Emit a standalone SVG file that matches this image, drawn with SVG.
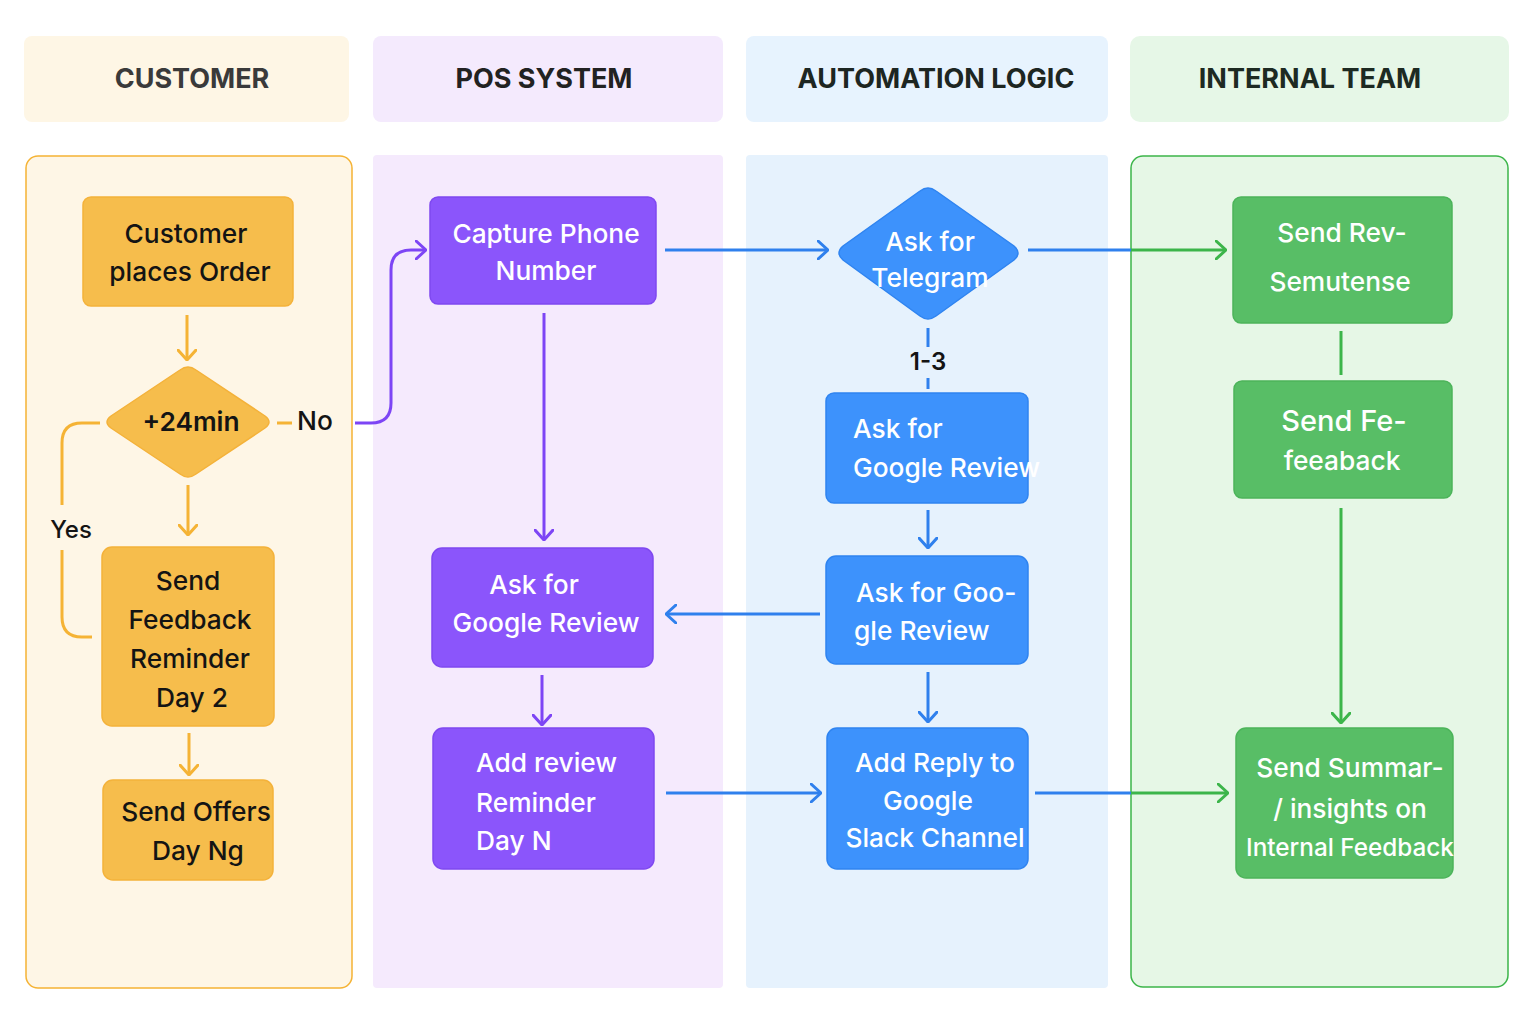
<svg xmlns="http://www.w3.org/2000/svg" width="1536" height="1024" viewBox="0 0 1536 1024">
<defs>
<style>
.hdr{font-family:Inter,"Liberation Sans",sans-serif;font-size:27px;font-weight:700;text-anchor:middle}
.t{font-family:Inter,"Liberation Sans",sans-serif;font-size:26.3px;font-weight:500}
.c{text-anchor:middle}
.dark{fill:#141414}
.wh{fill:#ffffff}
.onode{fill:#f6bd4c;stroke:#f4b23a;stroke-width:1.5}
.pnode{fill:#8b55fb;stroke:#7f48f0;stroke-width:1.5}
.bnode{fill:#3d92fc;stroke:#2f84f0;stroke-width:1.5}
.gnode{fill:#58be66;stroke:#4cb45a;stroke-width:1.5}
.co{fill:none;stroke:#f5b335;stroke-width:3}
.cp{fill:none;stroke:#7d45f5;stroke-width:3}
.cb{fill:none;stroke:#2f80ed;stroke-width:3}
.cg{fill:none;stroke:#3cb54a;stroke-width:3}
</style>
<marker id="ao" viewBox="0 0 12 20" refX="11" refY="10" markerWidth="12" markerHeight="20" markerUnits="userSpaceOnUse" orient="auto"><path d="M1,1 L11,10 L1,19" fill="none" stroke="#f5b335" stroke-width="3" stroke-linecap="round" stroke-linejoin="round"/></marker>
<marker id="ap" viewBox="0 0 12 20" refX="11" refY="10" markerWidth="12" markerHeight="20" markerUnits="userSpaceOnUse" orient="auto"><path d="M1,1 L11,10 L1,19" fill="none" stroke="#7d45f5" stroke-width="3" stroke-linecap="round" stroke-linejoin="round"/></marker>
<marker id="ab" viewBox="0 0 12 20" refX="11" refY="10" markerWidth="12" markerHeight="20" markerUnits="userSpaceOnUse" orient="auto"><path d="M1,1 L11,10 L1,19" fill="none" stroke="#2f80ed" stroke-width="3" stroke-linecap="round" stroke-linejoin="round"/></marker>
<marker id="ag" viewBox="0 0 12 20" refX="11" refY="10" markerWidth="12" markerHeight="20" markerUnits="userSpaceOnUse" orient="auto"><path d="M1,1 L11,10 L1,19" fill="none" stroke="#3cb54a" stroke-width="3" stroke-linecap="round" stroke-linejoin="round"/></marker>
</defs>
<rect x="0" y="0" width="1536" height="1024" fill="#ffffff"/>

<g id="headers">
<rect x="24" y="36" width="325" height="86" rx="8" fill="#fef6e5"/>
<text class="hdr" x="192" y="88" fill="#3a3a3a">CUSTOMER</text>
<rect x="373" y="36" width="350" height="86" rx="8" fill="#f4eafd"/>
<text class="hdr" x="544" y="88" fill="#222">POS SYSTEM</text>
<rect x="746" y="36" width="362" height="86" rx="8" fill="#e7f3fe"/>
<text class="hdr" x="936" y="88" fill="#1d2622">AUTOMATION LOGIC</text>
<rect x="1130" y="36" width="379" height="86" rx="10" fill="#e6f7e7"/>
<text class="hdr" x="1310" y="88" fill="#1d2a22">INTERNAL TEAM</text>
</g>

<g id="lanes">
<rect x="26" y="156" width="326" height="832" rx="12" fill="#fef6e6" stroke="#f5b335" stroke-width="1.5"/>
<rect x="373" y="155" width="350" height="833" rx="4" fill="#f5eafd"/>
<rect x="746" y="155" width="362" height="833" rx="4" fill="#e6f2fd"/>
<rect x="1131" y="156" width="377" height="831" rx="12" fill="#e6f7e6" stroke="#3cb54a" stroke-width="1.5"/>
</g>

<g id="connectors">
<line class="co" x1="187" y1="315" x2="187" y2="360" marker-end="url(#ao)"/>
<line class="co" x1="188" y1="485" x2="188" y2="535" marker-end="url(#ao)"/>
<line class="co" x1="189" y1="733" x2="189" y2="775" marker-end="url(#ao)"/>
<line class="co" x1="277" y1="423" x2="292" y2="423"/>
<path class="co" d="M100,423 L82,423 Q62,423 62,443 L62,505"/>
<path class="co" d="M62,550 L62,617 Q62,637 82,637 L92,637"/>
<path class="cp" d="M355,423 L371,423 Q391,423 391,403 L391,270 Q391,250 411,250 L426,250" marker-end="url(#ap)"/>
<line class="cp" x1="544" y1="313" x2="544" y2="540" marker-end="url(#ap)"/>
<line class="cp" x1="542" y1="675" x2="542" y2="725" marker-end="url(#ap)"/>
<line class="cb" x1="665" y1="250" x2="828" y2="250" marker-end="url(#ab)"/>
<line class="cb" x1="1028" y1="250" x2="1131" y2="250"/>
<line class="cg" x1="1131" y1="250" x2="1226" y2="250" marker-end="url(#ag)"/>
<line class="cb" x1="928" y1="328" x2="928" y2="347"/>
<line class="cb" x1="928" y1="378" x2="928" y2="389"/>
<line class="cb" x1="928" y1="510" x2="928" y2="548" marker-end="url(#ab)"/>
<line class="cb" x1="820" y1="614" x2="666" y2="614" marker-end="url(#ab)"/>
<line class="cb" x1="928" y1="672" x2="928" y2="722" marker-end="url(#ab)"/>
<line class="cb" x1="666" y1="793" x2="821" y2="793" marker-end="url(#ab)"/>
<line class="cb" x1="1035" y1="793" x2="1131" y2="793"/>
<line class="cg" x1="1131" y1="793" x2="1228" y2="793" marker-end="url(#ag)"/>
<line class="cg" x1="1341" y1="331" x2="1341" y2="375"/>
<line class="cg" x1="1341" y1="508" x2="1341" y2="723" marker-end="url(#ag)"/>
</g>

<g id="labels">
<text class="t dark c" x="315" y="430">No</text>
<text class="t dark c" x="71" y="538" style="font-size:24px">Yes</text>
<text class="t dark c" x="928" y="370" style="font-size:24px;font-weight:600">1-3</text>
</g>

<g id="n-customer-order">
<rect class="onode" x="83" y="197" width="210" height="109" rx="8"/>
<text class="t dark c" x="186" y="243">Customer</text>
<text class="t dark c" x="190" y="281">places Order</text>
</g>
<g id="n-24min">
<path class="onode" d="M180,370 Q188,364 196,370 L265,416 Q273,422 265,428 L196,474 Q188,480 180,474 L111,428 Q103,422 111,416 Z"/>
<text class="t dark c" x="191" y="431" style="font-weight:600">+24min</text>
</g>
<g id="n-feedback-day2">
<rect class="onode" x="102" y="547" width="172" height="179" rx="10"/>
<text class="t dark c" x="188" y="590">Send</text>
<text class="t dark c" x="190" y="629">Feedback</text>
<text class="t dark c" x="190" y="668">Reminder</text>
<text class="t dark c" x="192" y="707">Day 2</text>
</g>
<g id="n-offers">
<rect class="onode" x="103" y="780" width="170" height="100" rx="10"/>
<text class="t dark c" x="196" y="821">Send Offers</text>
<text class="t dark c" x="198" y="860">Day Ng</text>
</g>

<g id="n-capture-phone">
<rect class="pnode" x="430" y="197" width="226" height="107" rx="8"/>
<text class="t wh c" x="546" y="243">Capture Phone</text>
<text class="t wh c" x="546" y="280">Number</text>
</g>
<g id="n-pos-ask-review">
<rect class="pnode" x="432" y="548" width="221" height="119" rx="10"/>
<text class="t wh c" x="534" y="594">Ask for</text>
<text class="t wh c" x="546" y="632">Google Review</text>
</g>
<g id="n-add-review-reminder">
<rect class="pnode" x="433" y="728" width="221" height="141" rx="10"/>
<text class="t wh" x="476" y="772">Add review</text>
<text class="t wh" x="476" y="812">Reminder</text>
<text class="t wh" x="476" y="850">Day N</text>
</g>

<g id="n-telegram">
<path class="bnode" d="M920,191 Q928,185 936,191 L1014,246 Q1022,253 1014,260 L936,316 Q928,322 920,316 L843,260 Q835,253 843,246 Z"/>
<text class="t wh c" x="930" y="251">Ask for</text>
<text class="t wh c" x="930" y="287">Telegram</text>
</g>
<g id="n-auto-ask-review">
<rect class="bnode" x="826" y="393" width="202" height="110" rx="8"/>
<text class="t wh" x="853" y="438">Ask for</text>
<text class="t wh" x="853" y="477">Google Review</text>
</g>
<g id="n-auto-ask-google">
<rect class="bnode" x="826" y="556" width="202" height="108" rx="10"/>
<text class="t wh" x="856" y="602">Ask for Goo-</text>
<text class="t wh" x="854" y="640">gle Review</text>
</g>
<g id="n-add-reply">
<rect class="bnode" x="827" y="728" width="201" height="141" rx="10"/>
<text class="t wh c" x="935" y="772">Add Reply to</text>
<text class="t wh c" x="928" y="810">Google</text>
<text class="t wh c" x="935" y="847">Slack Channel</text>
</g>

<g id="n-send-rev">
<rect class="gnode" x="1233" y="197" width="219" height="126" rx="8"/>
<text class="t wh c" x="1342" y="242">Send Rev-</text>
<text class="t wh c" x="1340" y="291">Semutense</text>
</g>
<g id="n-send-fe">
<rect class="gnode" x="1234" y="381" width="218" height="117" rx="8"/>
<text class="t wh c" x="1344" y="431" style="font-size:29px">Send Fe-</text>
<text class="t wh c" x="1342" y="470">feeaback</text>
</g>
<g id="n-send-summary">
<rect class="gnode" x="1236" y="728" width="217" height="150" rx="10"/>
<text class="t wh c" x="1350" y="777">Send Summar-</text>
<text class="t wh c" x="1350" y="818">/ insights on</text>
<text class="t wh c" x="1350" y="856" style="font-size:24.3px">Internal Feedback</text>
</g>
</svg>
